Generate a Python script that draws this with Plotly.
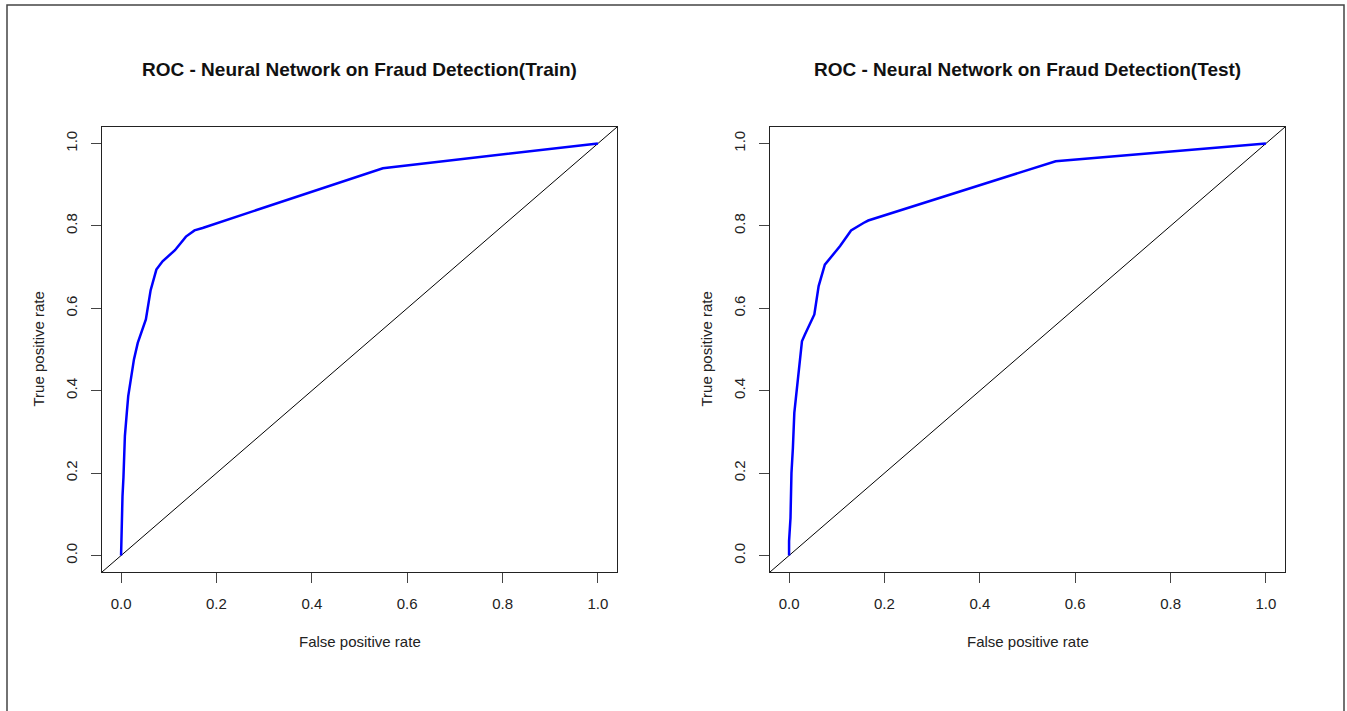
import plotly.graph_objects as go

# ---- data ----
fpr_train = [0, 0.001, 0.003, 0.005, 0.008, 0.012, 0.015, 0.027, 0.035, 0.052, 0.062,
             0.074, 0.087, 0.113, 0.136, 0.154, 0.171, 0.549, 1.0]
tpr_train = [0, 0.087, 0.144, 0.19, 0.29, 0.346, 0.387, 0.476, 0.516, 0.573, 0.644,
             0.694, 0.714, 0.741, 0.774, 0.789, 0.795, 0.940, 1.0]

fpr_test = [0, 0, 0.003, 0.005, 0.008, 0.011, 0.014, 0.017, 0.022, 0.027, 0.033, 0.053,
            0.062, 0.075, 0.107, 0.130, 0.156, 0.166, 0.559, 1.0]
tpr_test = [0, 0.035, 0.091, 0.2, 0.261, 0.346, 0.379, 0.415, 0.46, 0.52, 0.536, 0.585,
            0.654, 0.706, 0.751, 0.789, 0.807, 0.813, 0.957, 1.0]

axis_range = [-0.04, 1.04]
tick_vals = [0.0, 0.2, 0.4, 0.6, 0.8, 1.0]
tick_text = ["0.0", "0.2", "0.4", "0.6", "0.8", "1.0"]

titles = ["ROC - Neural Network on Fraud Detection(Train)",
          "ROC - Neural Network on Fraud Detection(Test)"]
x_title = "False positive rate"
y_title = "True positive rate"

# ---- layout geometry (screen pixels; page body margin removed below) ----
W, H = 1347, 711
panels = [(102, 617), (770, 1285)]
top, bottom = 127, 572
FONT = "Liberation Sans, Arial, sans-serif"

def px_x(p):
    return p / W

def px_y(p):
    return (H - p) / H

fig = go.Figure()

series = [(fpr_train, tpr_train), (fpr_test, tpr_test)]
for i, (fx, ty) in enumerate(series):
    xa = "x" if i == 0 else "x2"
    ya = "y" if i == 0 else "y2"
    # diagonal reference line y = x spanning the plotting region
    fig.add_trace(go.Scatter(x=axis_range, y=axis_range, mode="lines",
                             line=dict(color="black", width=1),
                             xaxis=xa, yaxis=ya, showlegend=False, hoverinfo="skip"))
    fig.add_trace(go.Scatter(x=fx, y=ty, mode="lines",
                             line=dict(color="#0000FF", width=2.5),
                             xaxis=xa, yaxis=ya, showlegend=False))

axis_common = dict(range=axis_range, tickvals=tick_vals, ticktext=tick_text,
                   showgrid=False, zeroline=False, showline=True, mirror=True,
                   linecolor="#222", linewidth=1.2, ticks="outside", ticklen=10,
                   tickwidth=1, tickcolor="#444",
                   tickfont=dict(family=FONT, size=15, color="#222"))

layout_axes = {}
for i, (l, r) in enumerate(panels):
    sx = "" if i == 0 else "2"
    layout_axes["xaxis" + sx] = dict(axis_common, domain=[px_x(l), px_x(r)],
                                     anchor="y" + sx, ticklabelstandoff=8)
    layout_axes["yaxis" + sx] = dict(axis_common, domain=[px_y(bottom), px_y(top)],
                                     anchor="x" + sx, tickangle=-90, ticklabelstandoff=8)

annotations = []
for i, (l, r) in enumerate(panels):
    cx = px_x((l + r) / 2)
    annotations.append(dict(text="<b>" + titles[i] + "</b>", x=cx, y=px_y(69),
                            xref="paper", yref="paper", showarrow=False,
                            xanchor="center", yanchor="middle",
                            font=dict(family=FONT, size=19, color="#111")))
    annotations.append(dict(text=x_title, x=cx, y=px_y(641), xref="paper", yref="paper",
                            showarrow=False, xanchor="center", yanchor="middle",
                            font=dict(family=FONT, size=15, color="#222")))
    annotations.append(dict(text=y_title, x=px_x(l - 64), y=px_y((top + bottom) / 2),
                            xref="paper", yref="paper", showarrow=False, textangle=-90,
                            xanchor="center", yanchor="middle",
                            font=dict(family=FONT, size=15, color="#222")))

fig.update_layout(
    width=W, height=H,
    margin=dict(l=0, r=0, t=0, b=0),
    paper_bgcolor="white", plot_bgcolor="white",
    annotations=annotations,
    shapes=[dict(type="rect", xref="paper", yref="paper",
                 x0=px_x(7), x1=px_x(1344), y0=-0.05, y1=px_y(5),
                 line=dict(color="#444", width=1.5), fillcolor="rgba(0,0,0,0)",
                 layer="below")],
    **layout_axes,
)

fig.write_html(
    "out.html",
    config={"displayModeBar": False},
    post_script="document.body.style.margin='0';document.documentElement.style.overflow='hidden';",
)
